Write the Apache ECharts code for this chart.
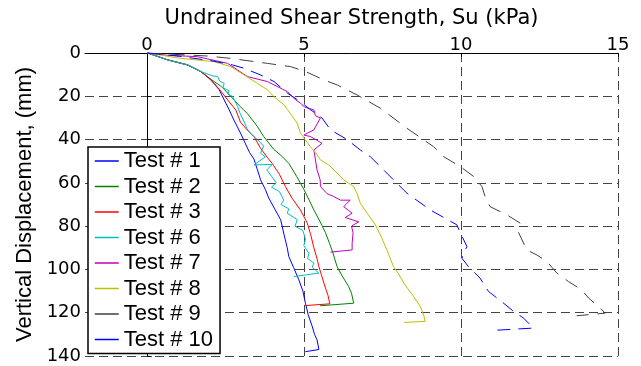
<!DOCTYPE html>
<html>
<head>
<meta charset="utf-8">
<script src="https://cdn.jsdelivr.net/npm/echarts@6/dist/echarts.min.js"></script>
<style>html,body{margin:0;padding:0;background:#fff;}#c{width:641px;height:366px;}</style>
</head>
<body>
<div id="c"></div>
<script>
// Data: [Su (kPa), vertical displacement (mm)]
var test1 = [[0,0],[0.64,3.2],[1.27,5.5],[1.7,8.6],[2.02,12.5],[2.28,17],[2.44,21.7],[2.6,26.3],[2.75,31],[2.96,37],[3.12,42],[3.25,46],[3.39,49],[3.5,54],[3.6,58.6],[3.75,63],[3.86,67],[4.05,72],[4.24,77],[4.35,84],[4.45,90],[4.5,94],[4.65,99],[4.82,104.8],[4.95,110],[5.03,115.6],[5.12,121],[5.24,126],[5.32,130],[5.4,132.5],[5.46,137],[5.03,138]];
var test2 = [[0,0],[0.64,3.2],[1.27,5.5],[1.7,8.6],[2.05,12.5],[2.35,15.5],[2.65,20],[2.9,24],[3.18,28],[3.5,34],[3.7,38.6],[4.02,44.5],[4.3,48],[4.5,51],[4.75,57],[4.98,63],[5.15,68],[5.3,72.5],[5.5,78],[5.67,83],[5.8,88],[5.9,92],[6.04,98.7],[6.2,103],[6.41,107.9],[6.5,111],[6.57,115.6],[5.5,116.8]];
var test3 = [[0,0],[0.64,3.2],[1.27,5.5],[1.7,8.6],[2.02,12.5],[2.3,17],[2.55,21.7],[2.81,26.3],[2.96,32],[3.2,36],[3.39,38.6],[3.6,44],[3.8,48],[3.97,51],[4.2,56],[4.39,61.7],[4.6,67],[4.87,72.5],[5.09,78.6],[5.2,84],[5.3,90],[5.4,95],[5.46,98.7],[5.55,103],[5.67,108.6],[5.75,112],[5.81,115.9],[5.03,116.7]];
var test6 = [[0,0],[0.64,3.2],[1.27,5.5],[1.7,8.6],[2.05,10.5],[2.23,10.9],[2.3,13],[2.44,14],[2.4,16],[2.6,17.5],[2.55,19],[2.7,20],[2.87,24.8],[2.95,28],[3.05,31],[3.17,35],[3.3,37.5],[3.5,40],[3.7,43],[3.6,46.3],[3.75,48],[3.39,51.7],[3.97,51.5],[3.8,54],[3.95,57],[4.1,60],[3.95,62],[4.2,64],[4.34,68],[4.25,70],[4.5,72],[4.45,74],[4.77,77],[4.7,80],[4.95,82],[5.03,86],[4.98,89],[5.14,92.5],[5.1,95],[5.3,97],[5.25,99],[5.46,101.7],[4.66,103.3]];
var test7 = [[0,0],[0.6,1],[1.59,1.7],[2.55,4.8],[3.18,10.9],[3.82,13.2],[4.46,17.9],[4.72,21.7],[4.88,23.2],[5.0,25],[5.3,26.3],[5.35,29],[5.51,30],[5.3,35.5],[4.98,37.9],[5.19,38.6],[5.56,41.7],[5.3,44.8],[5.35,49.4],[5.4,54],[5.5,58.6],[5.51,61.7],[5.72,65],[5.93,66.3],[6.15,68],[6.46,68],[6.25,71],[6.52,74],[6.3,76],[6.73,78],[6.5,80],[6.55,83],[6.52,88],[6.52,91],[5.83,92]];
var test8 = [[0,0],[1.06,2.5],[2.12,4],[2.65,6.3],[3.08,10.2],[3.5,14],[3.82,17],[4.03,20.2],[4.35,24],[4.45,26],[4.6,29],[4.77,32.5],[4.87,37],[5.19,43.3],[5.35,46],[5.51,49.4],[5.8,52],[6.04,55.5],[6.25,58.6],[6.57,61.7],[6.68,65],[6.78,69.4],[7.0,74],[7.26,79.4],[7.45,85],[7.63,91],[7.84,98.7],[8.0,102],[8.17,106.3],[8.35,110],[8.48,112.5],[8.69,117],[8.8,121],[8.85,124],[8.17,124.5]];
var test9 = [[0,0],[1.37,1],[1.91,1.4],[2.65,2.5],[3.82,4.8],[4.56,6.3],[5.04,8.6],[5.63,12.5],[6.05,14.8],[6.68,19.4],[7.42,25.5],[8.27,34.8],[9.12,43.3],[9.44,47.9],[9.97,52.5],[10.39,57],[10.66,61.7],[10.76,66.3],[10.92,71],[11.46,74.8],[11.88,78.6],[11.83,83],[12.09,91],[12.41,93.3],[12.73,96.3],[13.05,101.7],[13.42,105.6],[13.84,109.4],[14.06,113.2],[14.37,117],[14.59,120.2],[13.68,121.4]];
var test10 = [[0,0],[1.0,1.5],[2.0,3.5],[2.7,5.5],[3.08,7.1],[3.61,10.2],[4.03,13.2],[4.46,18.6],[4.87,22.5],[5.2,26.3],[5.56,30],[5.83,35.5],[6.36,40],[6.78,44.8],[7.1,47.9],[7.42,52.5],[7.84,58.6],[8.27,64.8],[9.01,72.5],[9.86,79.4],[9.97,83],[10.18,89.4],[10.02,94.8],[10.23,98.7],[10.6,104],[10.87,110.2],[11.3,115],[11.67,119.4],[11.99,122.5],[12.3,127.1],[10.98,128.2]];

var seriesNames = ['Test # 1','Test # 2','Test # 3','Test # 6','Test # 7','Test # 8','Test # 9','Test # 10'];
var seriesData = [test1, test2, test3, test6, test7, test8, test9, test10];
var xTicks = [0, 5, 10, 15];
var yTicks = [0, 20, 40, 60, 80, 100, 120, 140];
var xTitle = 'Undrained Shear Strength, Su (kPa)';
var yTitle = 'Vertical Displacement, (mm)';

var colors = ['#0000ff','#008000','#ff0000','#00bfbf','#bf00bf','#bfbf00','#404040','#0000ff'];
var dashes = ['solid','solid','solid','solid','solid','solid',[14,9],[13,8]];

var chart = echarts.init(document.getElementById('c'), null, {renderer:'canvas'});
var gridLine = {show:true, lineStyle:{color:'#444', width:1, type:[9,5]}};
var option = {
  animation:false,
  backgroundColor:'#fff',
  grid:[
    {left:85, right:23, top:53, bottom:10, containLabel:false},
    {left:147, right:23, top:53, bottom:10, containLabel:false}
  ],
  legend:{
    data:seriesNames, orient:'vertical', left:88, top:147, height:400,
    backgroundColor:'#fff', borderColor:'#000', borderWidth:1.5, borderRadius:0,
    padding:[3,7,3,6], itemWidth:24, itemHeight:14, itemGap:3.5,
    itemStyle:{opacity:0, borderWidth:0},
    lineStyle:{type:'solid', width:1.5},
    textStyle:{fontFamily:'Liberation Sans', fontSize:22, color:'#000', lineHeight:22}
  },
  xAxis:[
    {type:'value', gridIndex:0, position:'top', min:-2, max:15, interval:1,
     name:xTitle, nameLocation:'middle', nameGap:24,
     nameTextStyle:{fontFamily:'DejaVu Sans', fontSize:21, color:'#000'},
     axisLine:{show:true, lineStyle:{color:'#000', width:1}},
     axisTick:{show:false}, axisLabel:{show:false}, splitLine:{show:false}},
    {type:'value', gridIndex:1, position:'top', min:xTicks[0], max:xTicks[xTicks.length-1], interval:5,
     axisLine:{show:false},
     axisTick:{show:true, inside:true, length:4, lineStyle:{color:'#000'}},
     axisLabel:{show:true, margin:0, lineHeight:16, fontFamily:'DejaVu Sans', fontSize:18, color:'#000'},
     splitLine:gridLine}
  ],
  yAxis:[
    {type:'value', gridIndex:0, inverse:true, min:yTicks[0], max:yTicks[yTicks.length-1], interval:20,
     name:yTitle, nameLocation:'middle', nameGap:48,
     nameTextStyle:{fontFamily:'Liberation Sans', fontSize:22, color:'#000'},
     axisLine:{show:true, lineStyle:{color:'#000', width:1}},
     axisTick:{show:true, inside:true, length:4, lineStyle:{color:'#000'}},
     axisLabel:{margin:4, fontFamily:'DejaVu Sans', fontSize:18, color:'#000'},
     splitLine:gridLine},
    {type:'value', gridIndex:1, inverse:true, min:0, max:140, show:false}
  ],
  series: seriesNames.map(function(n,i){
    return {name:n, type:'line', xAxisIndex:0, yAxisIndex:0, data:seriesData[i],
      symbol:'none', showSymbol:false, smooth:false, z:3,
      color:colors[i],
      lineStyle:{color:colors[i], width:1, type:dashes[i]}};
  })
};
chart.setOption(option);
</script>
</body>
</html>
